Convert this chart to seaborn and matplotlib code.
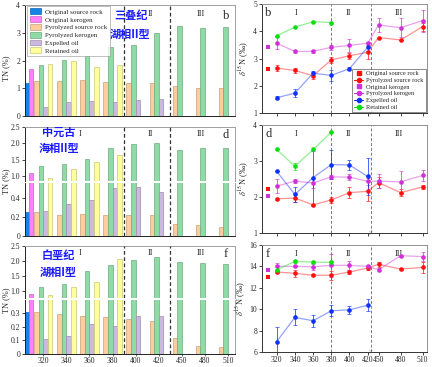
import numpy as np
import pandas as pd
import matplotlib
matplotlib.use('Agg')
import matplotlib.pyplot as plt
import matplotlib.transforms as mtransforms
from matplotlib.patches import Patch
from matplotlib.lines import Line2D
import seaborn as sns

# ---------------- data ----------------
temps = [320, 340, 360, 380, 400, 420, 450, 480, 510]
nan = np.nan

series_orig = ['Original source rock', 'Original kerogen']
series_pyro = ['Pyrolyzed source rock', 'Pyrolyzed kerogen', 'Expelled oil', 'Retained oil']

# TN (%) - panel b
b_orig_rock = 1.20
b_orig_kero = 1.69
b_pyro_rock = [1.26, 1.26, 1.28, 1.24, 1.19, 1.19, 1.08, 1.00, 1.00]
b_pyro_kero = [1.84, 2.02, 2.16, 2.50, 2.56, 2.98, 3.26, 3.18, 3.22]
b_exp_oil = [0.31, 0.49, 0.54, 0.50, 0.58, 0.60, nan, nan, nan]
b_ret_oil = [1.86, 1.99, 1.75, 1.83, nan, nan, nan, nan, nan]
# TN (%) - panel d
d_orig_rock = 0.25
d_orig_kero = 1.10
d_pyro_rock = [0.245, 0.22, 0.23, 0.22, 0.22, 0.22, 0.12, 0.11, 0.095]
d_pyro_kero = [1.30, 1.38, 1.53, 1.86, 1.96, 1.99, 1.79, 1.85, 1.86]
d_exp_oil = [0.26, 0.33, 0.375, 0.50, 0.51, 0.46, nan, nan, nan]
d_ret_oil = [0.94, 1.21, 1.43, 1.63, nan, nan, nan, nan, nan]
# TN (%) - panel f
f_orig_rock = 0.31
f_orig_kero = 0.92
f_pyro_rock = [0.31, 0.29, 0.28, 0.27, 0.255, 0.24, 0.117, 0.06, 0.05]
f_pyro_kero = [1.14, 1.24, 1.65, 1.85, 2.02, 2.12, 1.95, 1.93, 1.88]
f_exp_oil = [0.107, 0.13, 0.22, 0.205, 0.28, 0.28, nan, nan, nan]
f_ret_oil = [0.88, 1.14, 1.30, 2.07, nan, nan, nan, nan, nan]

# delta15N - original samples plotted at this temperature slot
orig_temp = 310
oil_temps = [320, 340, 360, 380, 400, 420]
ret_temps = [320, 340, 360, 380]

# panel b
bn_orig_rock = 2.61
bn_orig_kero = 3.41
bn_pyro_rock = [2.65, 2.56, 2.37, 2.95, 3.10, 3.23, 3.77, 3.68, 4.17]
bn_pyro_rock_err = [0.12, 0.08, 0.12, 0.10, 0.10, 0.25, 0.0, 0.0, 0.15]
bn_pyro_kero = [3.56, 3.26, 3.26, 3.41, 3.48, 3.56, 4.23, 4.13, 4.39]
bn_pyro_kero_err = [0.22, 0.07, 0.05, 0.10, 0.25, 0.05, 0.25, 0.35, 0.40]
bn_exp_oil = [1.56, 1.73, 2.46, 2.38, 2.63, 3.41]
bn_exp_oil_err = [0.05, 0.15, 0.08, 0.20, 0.05, 0.15]
bn_ret_oil = [3.83, 4.15, 4.35, 4.32]
bn_ret_oil_err = [0.0, 0.0, 0.0, 0.0]
# panel d
dn_orig_rock = 2.23
dn_orig_kero = 2.04
dn_pyro_rock = [1.95, 1.97, 1.78, 1.92, 2.12, 2.16, 2.40, 2.12, 2.28]
dn_pyro_rock_err = [0.03, 0.10, 0.03, 0.08, 0.15, 0.28, 0.15, 0.10, 0.05]
dn_pyro_kero = [2.30, 2.44, 2.39, 2.56, 2.55, 2.44, 2.44, 2.42, 2.60]
dn_pyro_kero_err = [0.20, 0.05, 0.15, 0.05, 0.08, 0.10, 0.20, 0.30, 0.15]
dn_exp_oil = [2.71, 2.07, 2.54, 2.90, 2.89, 2.57]
dn_exp_oil_err = [0.0, 0.22, 0.75, 0.40, 0.15, 0.52]
dn_ret_oil = [3.32, 2.85, 3.32, 3.80]
dn_ret_oil_err = [0.0, 0.10, 0.0, 0.0]
# panel f
fn_orig_rock = 12.98
fn_orig_kero = 13.69
fn_pyro_rock = [13.48, 13.35, 13.17, 13.17, 13.48, 13.85, 14.20, 13.75, 13.90]
fn_pyro_rock_err = [0.10, 0.30, 0.10, 0.40, 0.15, 0.15, 0.25, 0.10, 0.50]
fn_pyro_kero = [14.00, 14.00, 13.97, 14.10, 14.10, 14.00, 13.69, 15.00, 14.92]
fn_pyro_kero_err = [0.35, 0.10, 0.30, 1.10, 0.40, 0.10, 0.15, 0.10, 0.40]
fn_exp_oil = [6.98, 9.23, 8.92, 9.85, 9.94, 10.37]
fn_exp_oil_err = [1.40, 0.75, 0.55, 0.50, 0.40, 0.55]
fn_ret_oil = [13.69, 14.46, 14.40, 14.37]
fn_ret_oil_err = [0.0, 0.10, 0.10, 0.15]

# ---------------- style ----------------
sns.set_theme(style='ticks')
plt.rcParams['font.family'] = ['Liberation Serif', 'Noto Sans CJK SC', 'DejaVu Sans']
plt.rcParams['mathtext.fontset'] = 'stix'
plt.rcParams['axes.linewidth'] = 0.7

bar_colors = {'Original source rock': '#1485e6', 'Original kerogen': '#ff80ff',
              'Pyrolyzed source rock': '#ffcc9e', 'Pyrolyzed kerogen': '#8fdba5',
              'Expelled oil': '#cdb8df', 'Retained oil': '#ffff9c'}
c_red, c_mag, c_blue, c_green = '#ff1010', '#d030d8', '#1030ff', '#10dd10'
TICK_FS = 5.5
CJK = 'Noto Sans CJK SC'

W, H = 432, 367
fig = plt.figure(figsize=(W / 100, H / 100), dpi=100)


def rect(x0, y0, x1, y1):
    return [x0 / W, 1 - y1 / H, (x1 - x0) / W, (y1 - y0) / H]


def darker(c, f=0.78):
    r, g, b, a = c
    return (r * f, g * f, b * f, a)


ORIG_POS = -0.61
XLIM_L = (-0.79, 8.3)


def draw_bars(ax, orig_rock, orig_kero, pyro_rock, pyro_kero, exp_oil, ret_oil):
    n = len(temps)
    df = pd.DataFrame({'pos': np.tile(np.arange(n), 4).astype(float),
                       'val': np.concatenate([pyro_rock, pyro_kero, exp_oil, ret_oil]),
                       'series': np.repeat(series_pyro, n)}).dropna()
    sns.barplot(data=df, x='pos', y='val', hue='series', hue_order=series_pyro,
                palette=[bar_colors[s] for s in series_pyro], native_scale=True,
                dodge=True, width=0.8, errorbar=None, legend=False, saturation=1,
                linewidth=0.5, ax=ax)
    df0 = pd.DataFrame({'pos': [ORIG_POS, ORIG_POS], 'val': [orig_rock, orig_kero],
                        'series': series_orig})
    sns.barplot(data=df0, x='pos', y='val', hue='series', hue_order=series_orig,
                palette=[bar_colors[s] for s in series_orig], native_scale=True,
                dodge=True, width=0.36, errorbar=None, legend=False, saturation=1,
                linewidth=0.5, ax=ax)
    for p in ax.patches:
        p.set_edgecolor(darker(p.get_facecolor()))
    ax.set_xlabel('')
    ax.set_ylabel('')
    ax.set_xlim(*XLIM_L)
    for x in (3.5, 5.5):
        ax.axvline(x, color='#333333', ls=(0, (3, 2)), lw=0.9, zorder=5)
    ax.spines['top'].set_color('#a0a0a0')
    ax.spines['right'].set_color('#a0a0a0')
    ax.spines['left'].set_color('#222222')
    ax.spines['bottom'].set_color('#222222')
    ax.tick_params(axis='y', labelsize=TICK_FS, length=2, width=0.6, pad=1.5)
    ax.tick_params(axis='x', labelsize=TICK_FS, length=0, pad=0.8)
    ax.set_xticks(range(len(temps)))
    ax.set_xticklabels([])


def roman_left(ax, y, show_I=True):
    tr = mtransforms.blended_transform_factory(ax.transData, ax.transAxes)
    for lab, x in (('I', 1.59), ('II', 4.62), ('III', 6.83)):
        if lab == 'I' and not show_I:
            continue
        ax.text(x, y, lab, transform=tr, ha='center', va='center', fontsize=6, zorder=6)


def ylabel_tn(ycenter_px):
    fig.text(6 / W, 1 - ycenter_px / H, 'TN (%)', rotation=90, ha='center', va='center',
             fontsize=6)


def cjk_text(x_px, y_px, s):
    fig.text(x_px / W, 1 - y_px / H, s, fontsize=8, color='#1a1aff', fontweight='bold',
             ha='center', va='center', family=[CJK, 'DejaVu Sans'], zorder=10)


# ----- left panel b -----
axb = fig.add_axes(rect(25, 5, 235, 116))
draw_bars(axb, b_orig_rock, b_orig_kero, b_pyro_rock, b_pyro_kero, b_exp_oil, b_ret_oil)
axb.set_ylim(0, 4)
axb.set_yticks([0, 1, 2, 3, 4])
axb.set_yticklabels(['0', '1', '2', '3', '4'])
roman_left(axb, 0.92, show_I=False)
axb.text(0.957, 0.9, 'b', transform=axb.transAxes, ha='center', va='center', fontsize=9)
cjk_text(131, 16, '三叠纪')
cjk_text(130, 34, '湖相II型')
handles = [Patch(facecolor=bar_colors[s], edgecolor=darker(matplotlib.colors.to_rgba(bar_colors[s])),
                 linewidth=0.5, label=s) for s in series_orig + series_pyro]
leg = axb.legend(handles=handles, loc='upper left', fontsize=5, frameon=True,
                 fancybox=False, edgecolor='#909090', borderpad=0.3, labelspacing=0.22,
                 handlelength=1.7, handleheight=0.9, handletextpad=0.6,
                 bbox_to_anchor=(0.005, 1.0), borderaxespad=0.2)
leg.get_frame().set_linewidth(0.5)
leg.set_zorder(8)
ylabel_tn(68)


def broken(top_px, mid1_px, mid2_px, bot_px, up_lim, lo_lim, up_ticks, lo_ticks, lo_labels,
           vals, letter, cjk1, cjk2, cjk_x, cjk_y, last=False):
    axu = fig.add_axes(rect(25, top_px, 235, mid1_px))
    axl = fig.add_axes(rect(25, mid2_px, 235, bot_px))
    for ax in (axu, axl):
        draw_bars(ax, *vals)
    axu.set_ylim(*up_lim)
    axl.set_ylim(*lo_lim)
    axu.set_yticks(up_ticks)
    axu.set_yticklabels(['%.1f' % t for t in up_ticks])
    axl.set_yticks(lo_ticks)
    axl.set_yticklabels(lo_labels)
    axu.spines['bottom'].set_visible(False)
    axl.spines['top'].set_visible(False)
    axu.tick_params(axis='x', bottom=False, labelbottom=False)
    if last:
        axl.set_xticklabels([str(t) for t in temps])
        axl.tick_params(axis='x', length=1.2, width=0.5)
    roman_left(axu, 0.86)
    axu.text(0.957, 0.84, letter, transform=axu.transAxes, ha='center', va='center', fontsize=9)
    cjk_text(cjk_x, cjk_y[0], cjk1)
    cjk_text(cjk_x, cjk_y[1], cjk2)
    ylabel_tn((top_px + bot_px) / 2)
    return axu, axl


broken(126.7, 180.7, 182.7, 235.7, (0.86, 2.5), (0, 0.558), [1.0, 1.5, 2.0, 2.5],
       [0, 0.2, 0.4], ['0', '0.2', '0.4'],
       (d_orig_rock, d_orig_kero, d_pyro_rock, d_pyro_kero, d_exp_oil, d_ret_oil),
       'd', '中元古', '海相II型', 59, (132, 148))
broken(245.7, 297.5, 299.5, 354.0, (0.79, 2.5), (0, 0.398), [1.0, 1.5, 2.0, 2.5],
       [0, 0.1, 0.2, 0.3], ['0', '0.1', '0.2', '0.3'],
       (f_orig_rock, f_orig_kero, f_pyro_rock, f_pyro_kero, f_exp_oil, f_ret_oil),
       'f', '白垩纪', '湖相I型', 58, (256, 272), last=True)

# ---------------- right panels ----------------
BRK = 429
_fx = [0, 420, 450, 1000]
_fy = [-16.0, 5.0, 5.6, 5.6 + 550 / 30 * 1.21]


def fwd(x):
    return np.interp(x, _fx, _fy)


def inv(y):
    return np.interp(y, _fy, _fx)


def draw_d15(ax, orig_rock, orig_kero, pr, pr_e, pk, pk_e, eo, eo_e, ro, ro_e,
             ylim, yticks, letter, last=False, legend=False):
    ax.set_xscale('function', functions=(fwd, inv))
    line_specs = [(temps, pr, pr_e, c_red), (temps, pk, pk_e, c_mag),
                  (oil_temps, eo, eo_e, c_blue), (ret_temps, ro, ro_e, c_green)]
    for xs, ys, es, c in line_specs:
        sns.lineplot(x=xs, y=ys, color=c, alpha=0.45, lw=0.9, ax=ax, sort=False,
                     estimator=None, errorbar=None)
        ax.errorbar(xs, ys, yerr=es, fmt='none', ecolor=c, elinewidth=0.7, capsize=1.3,
                    capthick=0.6, alpha=0.75, zorder=3)
        sns.scatterplot(x=xs, y=ys, color=c, s=11, marker='o', linewidth=0, ax=ax, zorder=4)
    sns.scatterplot(x=[orig_temp], y=[orig_rock], color=c_red, s=11, marker='s', linewidth=0,
                    ax=ax, zorder=4)
    sns.scatterplot(x=[orig_temp], y=[orig_kero], color=c_mag, s=11, marker='s', linewidth=0,
                    ax=ax, zorder=4)
    ax.set_xlim(303.8, 516)
    ax.set_ylim(*ylim)
    ax.set_yticks(yticks)
    ax.set_yticklabels([str(t) for t in yticks])
    ax.set_xticks(temps)
    ax.xaxis.set_minor_locator(matplotlib.ticker.NullLocator())
    if last:
        ax.set_xticklabels([str(t) for t in temps])
    else:
        ax.set_xticklabels([])
    ax.tick_params(labelsize=TICK_FS, length=2, width=0.6, pad=1.5)
    ax.tick_params(axis='x', pad=0.8)
    ax.set_xlabel('')
    ax.set_ylabel(r'$\delta^{15}$N (‰)', fontsize=6, labelpad=2)
    for s in ('top', 'right'):
        ax.spines[s].set_color('#909090')
    for s in ('left', 'bottom'):
        ax.spines[s].set_color('#333333')
    for x in (380, BRK):
        ax.axvline(x, color='#777777', ls=(0, (3, 2)), lw=0.7, zorder=1)
    tr = mtransforms.blended_transform_factory(ax.transData, ax.transAxes)
    for lab, x in (('I', 341), ('II', 399), ('III', 478)):
        ax.text(x, 0.92, lab, transform=tr, ha='center', va='center', fontsize=6)
    ax.text(BRK, 0.0, '//', transform=tr, ha='center', va='center', fontsize=5,
            color='#555555', rotation=20, clip_on=False)
    ax.text(0.02, 0.975, letter, transform=ax.transAxes, ha='left', va='top', fontsize=9)
    if legend:
        hs = [Line2D([], [], color=c_red, marker='s', ls='none', ms=3, label='Original source rock'),
              Line2D([], [], color=c_red, marker='o', ls='-', lw=0.8, ms=3, label='Pyrolyzed source rock'),
              Line2D([], [], color=c_mag, marker='s', ls='none', ms=3, label='Original kerogen'),
              Line2D([], [], color=c_mag, marker='o', ls='-', lw=0.8, ms=3, label='Pyrolyzed kerogen'),
              Line2D([], [], color=c_blue, marker='o', ls='-', lw=0.8, ms=3, label='Expelled oil'),
              Line2D([], [], color=c_green, marker='o', ls='-', lw=0.8, ms=3, label='Retained oil')]
        lg = ax.legend(handles=hs, loc='lower right', fontsize=4.6, frameon=True, fancybox=False,
                       edgecolor='#333333', borderpad=0.3, labelspacing=0.2, handlelength=1.4,
                       handletextpad=0.5, borderaxespad=0.2)
        lg.get_frame().set_linewidth(0.5)


axrb = fig.add_axes(rect(262, 4, 427, 113))
draw_d15(axrb, bn_orig_rock, bn_orig_kero, bn_pyro_rock, bn_pyro_rock_err, bn_pyro_kero,
         bn_pyro_kero_err, bn_exp_oil, bn_exp_oil_err, bn_ret_oil, bn_ret_oil_err,
         (1, 5), [1, 2, 3, 4, 5], 'b', legend=True)
axrd = fig.add_axes(rect(262, 125, 427, 233))
draw_d15(axrd, dn_orig_rock, dn_orig_kero, dn_pyro_rock, dn_pyro_rock_err, dn_pyro_kero,
         dn_pyro_kero_err, dn_exp_oil, dn_exp_oil_err, dn_ret_oil, dn_ret_oil_err,
         (1, 4), [1, 2, 3, 4], 'd')
axrf = fig.add_axes(rect(262, 245, 427, 352))
draw_d15(axrf, fn_orig_rock, fn_orig_kero, fn_pyro_rock, fn_pyro_rock_err, fn_pyro_kero,
         fn_pyro_kero_err, fn_exp_oil, fn_exp_oil_err, fn_ret_oil, fn_ret_oil_err,
         (6, 16), [6, 8, 10, 12, 14, 16], 'f', last=True)

fig.savefig('out.png', dpi=100)
